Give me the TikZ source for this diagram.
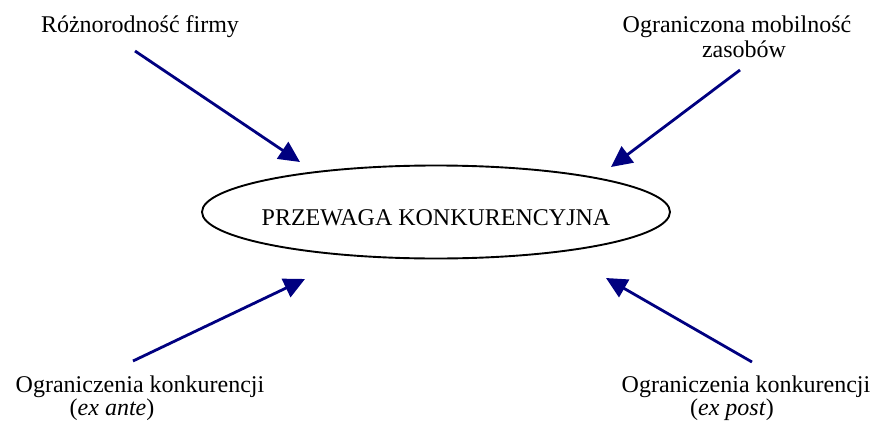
\documentclass[tikz,border=0pt]{standalone}
\usepackage{fontspec}
\setmainfont{Liberation Serif}
\usetikzlibrary{shapes.geometric,arrows.meta}
\definecolor{arrowblue}{RGB}{0,0,128}
\tikzset{
  label/.style={font=\fontsize{24}{26}\selectfont, anchor=base, inner sep=0pt},
  feed/.style={draw=arrowblue, line width=2.8pt,
    -{Triangle[length=21pt,width=20pt]}},
}
\begin{document}
\begin{tikzpicture}[x=1pt,y=-1pt]
  \useasboundingbox (0,0) rectangle (875,423);
  % central ellipse
  \node[draw, line width=1.9pt, ellipse, minimum width=468pt, minimum height=93pt, inner sep=0pt]
    (center) at (436,212) {};
  \node[label] (ctext) at (436,225) {PRZEWAGA KONKURENCYJNA};
  % factor labels
  \node[label] (tl) at (140,32) {Różnorodność firmy};
  \node[label] (tr1) at (737,32) {Ograniczona mobilność};
  \node[label] (tr2) at (744,57) {zasobów};
  \node[label] (bl1) at (140,392) {Ograniczenia konkurencji};
  \node[label] (bl2) at (112,415) {(\textit{ex ante})};
  \node[label] (br1) at (746,392) {Ograniczenia konkurencji};
  \node[label] (br2) at (732,415) {(\textit{ex post})};
  % arrow anchors
  \coordinate (a1s) at (135,51);  \coordinate (a1e) at (300,162);
  \coordinate (a2s) at (740,70);  \coordinate (a2e) at (611,167);
  \coordinate (a3s) at (133,361); \coordinate (a3e) at (305,279);
  \coordinate (a4s) at (752,362); \coordinate (a4e) at (606,278);
  \draw[feed] (a1s) -- (a1e);
  \draw[feed] (a2s) -- (a2e);
  \draw[feed] (a3s) -- (a3e);
  \draw[feed] (a4s) -- (a4e);
\end{tikzpicture}
\end{document}
